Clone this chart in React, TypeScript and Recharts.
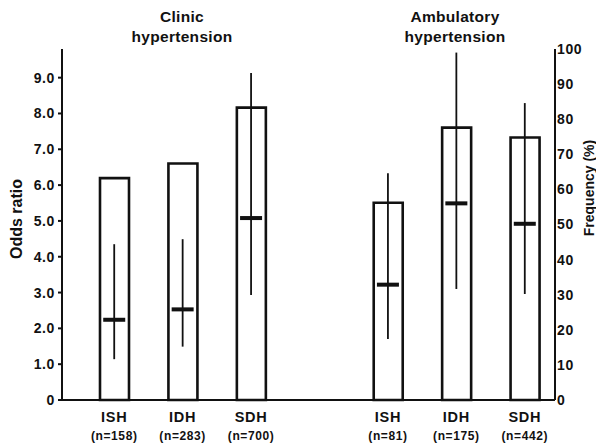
import React from 'react';
import { ComposedChart, Bar, Line, ErrorBar, XAxis, YAxis } from 'recharts';

// subtypes, with an empty slot separating the clinic and ambulatory groups
const CATEGORIES = ['ISH', 'IDH', 'SDH', '', 'ISH', 'IDH', 'SDH'];
const SAMPLE_SIZES = ['n=158', 'n=283', 'n=700', '', 'n=81', 'n=175', 'n=442'];
const GROUP_TITLES = [
  ['Clinic', 'hypertension'],
  ['Ambulatory', 'hypertension'],
];

// frequency (%) -> hollow bars, right axis
const FREQUENCY = [63.2, 67.4, 83.3, null, 56.2, 77.6, 74.8];
// odds ratio with 95% CI -> left axis
const ODDS_RATIO = [2.24, 2.53, 5.08, null, 3.22, 5.49, 4.92];
const CI_LOW = [1.14, 1.49, 2.93, null, 1.7, 3.1, 2.96];
const CI_HIGH = [4.35, 4.49, 9.13, null, 6.33, 9.7, 8.29];

const ODDS_TICKS = [0, 1, 2, 3, 4, 5, 6, 7, 8, 9];
const FREQ_TICKS = [0, 10, 20, 30, 40, 50, 60, 70, 80, 90, 100];

const FONT = "'Liberation Sans', Arial, Helvetica, sans-serif";

const data = CATEGORIES.map((name, i) => {
  const or = ODDS_RATIO[i];
  const lo = CI_LOW[i];
  const hi = CI_HIGH[i];
  return {
    name,
    freq: FREQUENCY[i],
    or,
    ci: or == null || lo == null || hi == null ? undefined : [or - lo, hi - or],
  };
});

const CategoryTick = ({ x, y, payload }: any) => {
  const i = payload.index;
  if (!CATEGORIES[i]) return <g />;
  return (
    <g transform={`translate(${x},${y})`}>
      <text
        y={22}
        textAnchor="middle"
        fontFamily={FONT}
        fontWeight="bold"
        fontSize={14.5}
        letterSpacing={0.7}
        fill="#111"
      >
        {CATEGORIES[i]}
      </text>
      <text
        y={40}
        textAnchor="middle"
        fontFamily={FONT}
        fontWeight="bold"
        fontSize={12}
        letterSpacing={0.6}
        fill="#111"
      >
        ({SAMPLE_SIZES[i]})
      </text>
    </g>
  );
};

const OddsMarker = (props: any) => {
  const { cx, cy } = props;
  if (cx == null || cy == null) return <g />;
  return <rect x={cx - 11} y={cy - 2} width={22} height={4} fill="#111" />;
};

const tickStyle = {
  fontFamily: FONT,
  fontWeight: 'bold',
  fontSize: 14,
  fill: '#111',
  letterSpacing: 0.6,
};

export default function App() {
  return (
    <div style={{ position: 'relative', width: 596, height: 443, fontFamily: FONT, background: '#fff' }}>
      <style>{'body{margin:0}'}</style>

      {GROUP_TITLES.map((lines, g) => (
        <div
          key={g}
          style={{
            position: 'absolute',
            top: 7,
            left: (g === 0 ? 182 : 455) - 100,
            width: 200,
            textAlign: 'center',
            fontWeight: 'bold',
            fontSize: 15.5,
            lineHeight: '20px',
            letterSpacing: 0.3,
            color: '#111',
          }}
        >
          {lines[0]}
          <br />
          {lines[1]}
        </div>
      ))}

      <div
        style={{
          position: 'absolute',
          left: 17,
          top: 219,
          transform: 'translate(-50%, -50%) rotate(-90deg)',
          whiteSpace: 'nowrap',
          fontWeight: 'bold',
          fontSize: 16,
          color: '#111',
        }}
      >
        Odds ratio
      </div>
      <div
        style={{
          position: 'absolute',
          left: 589,
          top: 188,
          transform: 'translate(-50%, -50%) rotate(-90deg)',
          whiteSpace: 'nowrap',
          fontWeight: 'bold',
          fontSize: 14,
          color: '#111',
        }}
      >
        Frequency (%)
      </div>

      <ComposedChart
        width={596}
        height={443}
        data={data}
        margin={{ top: 49, right: 0, bottom: 0, left: 0 }}
        barCategoryGap={0}
      >
        <XAxis
          dataKey="name"
          xAxisId="x"
          padding={{ left: 18, right: -4 }}
          axisLine={{ stroke: '#111', strokeWidth: 2 }}
          tickLine={false}
          tickSize={0}
          tickMargin={0}
          height={43}
          interval={0}
          tick={<CategoryTick />}
        />
        <YAxis
          yAxisId="or"
          width={62}
          domain={[0, 9.8]}
          ticks={ODDS_TICKS}
          allowDataOverflow
          tickFormatter={(v: number) => (v === 0 ? '0' : v.toFixed(1))}
          axisLine={{ stroke: '#111', strokeWidth: 2 }}
          tickLine={{ stroke: '#111', strokeWidth: 2 }}
          tickSize={4}
          tickMargin={3}
          tick={tickStyle}
        />
        <YAxis
          yAxisId="freq"
          orientation="right"
          width={41}
          domain={[0, 100]}
          ticks={FREQ_TICKS}
          axisLine={{ stroke: '#111', strokeWidth: 2 }}
          tickLine={false}
          tickSize={0}
          tickMargin={2}
          tick={{ ...tickStyle, textAnchor: 'start' }}
        />
        <Bar
          xAxisId="x"
          yAxisId="freq"
          dataKey="freq"
          fill="#fff"
          stroke="#111"
          strokeWidth={2.6}
          barSize={29}
          isAnimationActive={false}
        />
        <Line
          xAxisId="x"
          yAxisId="or"
          dataKey="or"
          stroke="none"
          dot={<OddsMarker />}
          activeDot={false}
          isAnimationActive={false}
        >
          <ErrorBar dataKey="ci" direction="y" width={0} stroke="#111" strokeWidth={1.8} />
        </Line>
      </ComposedChart>
    </div>
  );
}
